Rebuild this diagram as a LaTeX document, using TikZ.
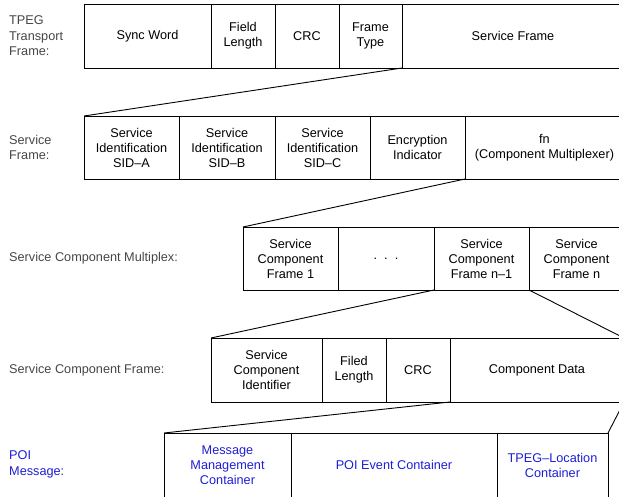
\documentclass[tikz,border=0pt]{standalone}
\usepackage{fontspec}
\setmainfont{Liberation Sans}
\usetikzlibrary{positioning}

\definecolor{labelgray}{RGB}{70,70,70}
\definecolor{poiblue}{RGB}{30,30,215}

\tikzset{
  cell/.style={draw, line width=0.9pt, anchor=north west, inner sep=0pt, outer sep=0pt,
    minimum height=64pt, align=center, font=\fontsize{12.7}{15}\selectfont},
  rowlabel/.style={anchor=west, inner sep=0pt, align=left, text=labelgray,
    font=\fontsize{12.7}{15.5}\selectfont},
  fan/.style={line width=0.9pt}
}

\begin{document}
\begin{tikzpicture}[x=1pt,y=-1pt]
\useasboundingbox (0,0) rectangle (619,497);
\clip (0,0) rectangle (619,496.6);

% TPEG transport frame
\node[rowlabel] (lab1) at (9,36) {TPEG\\Transport\\Frame:};
\node[cell, minimum width=127pt] (tf1) at (84,4) {Sync Word};
\node[cell, minimum width=64pt, right=0pt of tf1.north east, anchor=north west] (tf2) {Field\\Length};
\node[cell, minimum width=64pt, right=0pt of tf2.north east, anchor=north west] (tf3) {CRC};
\node[cell, minimum width=63pt, right=0pt of tf3.north east, anchor=north west] (tf4) {Frame\\Type};
\node[cell, minimum width=222pt, right=0pt of tf4.north east, anchor=north west] (tf5) {Service Frame};

% service frame
\node[rowlabel] (lab2) at (9,147.5) {Service\\Frame:};
\node[cell, minimum width=95pt, minimum height=63pt] (sf1) at (84,116) {Service\\Identification\\SID--A};
\node[cell, minimum width=96pt, minimum height=63pt, right=0pt of sf1.north east, anchor=north west] (sf2) {Service\\Identification\\SID--B};
\node[cell, minimum width=95pt, minimum height=63pt, right=0pt of sf2.north east, anchor=north west] (sf3) {Service\\Identification\\SID--C};
\node[cell, minimum width=95pt, minimum height=63pt, right=0pt of sf3.north east, anchor=north west] (sf4) {Encryption\\Indicator};
\node[cell, minimum width=159pt, minimum height=63pt, right=0pt of sf4.north east, anchor=north west] (sf5) {fn\\(Component Multiplexer)};

% service component multiplex
\node[rowlabel] (lab3) at (9,258.5) {Service Component Multiplex:};
\node[cell, minimum width=95pt, minimum height=63pt] (scm1) at (243,227) {Service\\Component\\Frame 1};
\node[cell, minimum width=96pt, minimum height=63pt, right=0pt of scm1.north east, anchor=north west] (scm2) {.\ \ .\ \ .};
\node[cell, minimum width=95pt, minimum height=63pt, right=0pt of scm2.north east, anchor=north west] (scm3) {Service\\Component\\Frame n--1};
\node[cell, minimum width=95pt, minimum height=63pt, right=0pt of scm3.north east, anchor=north west] (scm4) {Service\\Component\\Frame n};

% service component frame
\node[rowlabel] (lab4) at (9,370) {Service Component Frame:};
\node[cell, minimum width=111pt] (scf1) at (211,338) {Service\\Component\\Identifier};
\node[cell, minimum width=64pt, right=0pt of scf1.north east, anchor=north west] (scf2) {Filed\\Length};
\node[cell, minimum width=64pt, right=0pt of scf2.north east, anchor=north west] (scf3) {CRC};
\node[cell, minimum width=174pt, right=0pt of scf3.north east, anchor=north west] (scf4) {Component Data};

% POI message
\node[rowlabel, text=poiblue] (lab5) at (9,464.5) {POI\\Message:};
\node[cell, minimum width=127pt, text=poiblue] (poi1) at (164,433) {Message\\Management\\Container};
\node[cell, minimum width=206pt, text=poiblue, right=0pt of poi1.north east, anchor=north west] (poi2) {POI Event Container};
\node[cell, minimum width=111pt, text=poiblue, right=0pt of poi2.north east, anchor=north west] (poi3) {TPEG--Location\\Container};

% expansion lines
\draw[fan] (tf5.south west) -- (sf1.north west);
\draw[fan] (sf5.south west) -- (scm1.north west);
\draw[fan] (scm3.south west) -- (scf1.north west);
\draw[fan] (scm3.south east) -- (scf4.north east);
\draw[fan] (scf4.south west) -- (poi1.north west);
\draw[fan] (scf4.south east) -- (poi3.north east);
\end{tikzpicture}
\end{document}
